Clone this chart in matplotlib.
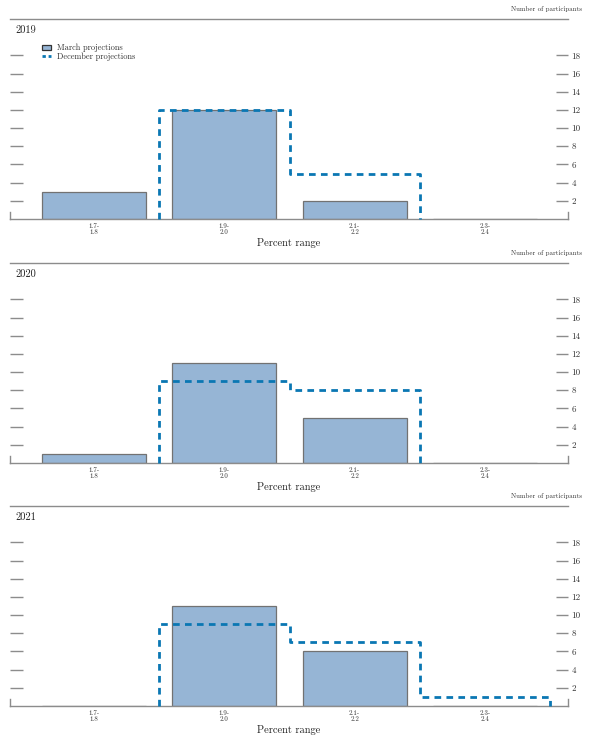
import numpy as np
import matplotlib
matplotlib.use("Agg")
import matplotlib.pyplot as plt
from matplotlib.patches import Patch
from matplotlib.lines import Line2D

plt.rcParams['font.family'] = ['cmr10', 'DejaVu Serif']
plt.rcParams['axes.formatter.use_mathtext'] = True

# data
ranges = ['1.7-\n1.8', '1.9-\n2.0', '2.1-\n2.2', '2.3-\n2.4']
years = ['2019', '2020', '2021']
march = [
    [3, 12, 2, 0],
    [1, 11, 5, 0],
    [0, 11, 6, 0],
]
december = [
    [0, 12, 5, 0],
    [0, 9, 8, 0],
    [0, 9, 7, 1],
]
yticks = [2, 4, 6, 8, 10, 12, 14, 16, 18]

bar_color = '#96b5d5'
bar_edge = '#727272'
dash_color = '#0a77b3'
line_gray = '#8c8c8c'
text_col = '#333333'

W, H = 591, 740
fig = plt.figure(figsize=(W / 100, H / 100), dpi=100)

# panel boxes in pixels: (top, bottom)
panels = [(19, 219), (263, 463), (506, 706)]
x_left, x_right = 10, 568

x = np.arange(len(ranges))

for i, (top, bot) in enumerate(panels):
    ax = fig.add_axes([x_left / W, (H - bot) / H, (x_right - x_left) / W, (bot - top) / H])
    ax.set_xlim(-0.645, 3.637)
    ax.set_ylim(0, 22)

    ax.bar(x, march[i], width=0.8, color=bar_color, edgecolor=bar_edge, linewidth=0.9, zorder=2)

    # December stairs, trimmed of the empty ends
    vals = december[i]
    nz = [k for k, v in enumerate(vals) if v > 0]
    i0, i1 = nz[0], nz[-1]
    xs, ys = [i0 - 0.5], [0]
    for k in range(i0, i1 + 1):
        xs += [k - 0.5, k + 0.5]
        ys += [vals[k], vals[k]]
    xs.append(i1 + 0.5)
    ys.append(0)
    ax.plot(xs, ys, color=dash_color, lw=2.0, linestyle=(0, (2.4, 1.9)), zorder=3, clip_on=False)

    for side in ['left', 'right']:
        ax.spines[side].set_visible(False)
    for side in ['top', 'bottom']:
        ax.spines[side].set_color(line_gray)
        ax.spines[side].set_linewidth(1.0)
    for xe in [0, 1]:
        ax.plot([xe, xe], [0, 0.035], transform=ax.transAxes, color=line_gray, lw=1.0, clip_on=False)

    ax.set_yticks(yticks)
    ax.set_yticklabels([str(t) for t in yticks])
    ax.tick_params(axis='y', which='both', left=True, right=True, labelleft=False, labelright=True,
                   direction='in', length=9, width=1.0, color=line_gray, pad=2.5, labelsize=6.5,
                   labelcolor=text_col)
    ax.set_xticks(x)
    ax.set_xticklabels(ranges, fontsize=5, linespacing=1.1, color=text_col)
    ax.tick_params(axis='x', length=0, pad=3)
    ax.set_xlabel('Percent range', fontsize=7.5, labelpad=2, color='#222222')

    ax.text(0.01, 0.945, years[i], transform=ax.transAxes, fontsize=7.5, va='center', ha='left',
            color='#222222')
    fig.text(582 / W, (H - top + 10) / H, 'Number of participants', fontsize=5, ha='right',
             va='center', color=text_col)

    if i == 0:
        handles = [Patch(facecolor=bar_color, edgecolor='#333333', linewidth=0.9),
                   Line2D([0], [0], color=dash_color, lw=2.0, linestyle=(0, (1.2, 1.0)))]
        ax.legend(handles, ['March projections', 'December projections'], loc='upper left',
                  bbox_to_anchor=(0.058, 0.875), frameon=False, fontsize=6, handlelength=1.0,
                  handleheight=0.6, labelspacing=0.0, handletextpad=0.8, borderpad=0,
                  borderaxespad=0, labelcolor=text_col)

fig.savefig('out.png', dpi=100)
